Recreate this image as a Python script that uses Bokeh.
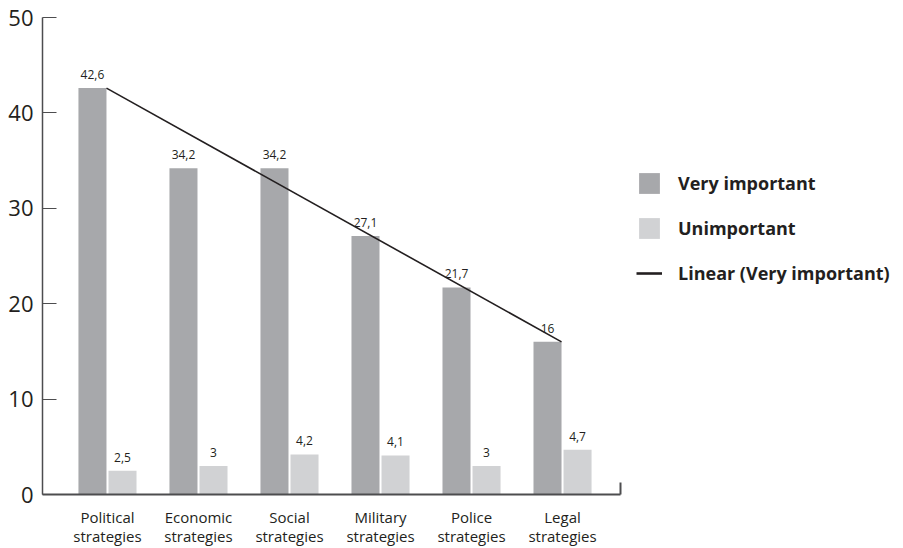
from bokeh.plotting import figure
from bokeh.models import (ColumnDataSource, FixedTicker, Range1d, Legend, LegendItem, LabelSet)
from bokeh.layouts import row
from bokeh.core.properties import value
from bokeh.embed import file_html
from bokeh.resources import INLINE

categories = ["Political\nstrategies", "Economic\nstrategies", "Social\nstrategies",
              "Military\nstrategies", "Police\nstrategies", "Legal\nstrategies"]
very_important = [42.6, 34.2, 34.2, 27.1, 21.7, 16]
unimportant = [2.5, 3, 4.2, 4.1, 3, 4.7]
y_ticks = [0, 10, 20, 30, 40, 50]
series_names = ["Very important", "Unimportant", "Linear (Very important)"]

def fmt(v):
    s = ("%g" % v)
    return s.replace(".", ",")

FONT = "Open Sans"
TXT = "#231f20"
DARK = "#a7a8ab"
LIGHT = "#d1d2d4"
AXIS = "#4d4d4f"

idx = list(range(len(categories)))
bw = 0.308
off = 0.165
x_dark = [i - off for i in idx]
x_light = [i + off for i in idx]

src_d = ColumnDataSource(dict(x=x_dark, top=very_important, lab=[fmt(v) for v in very_important]))
src_l = ColumnDataSource(dict(x=x_light, top=unimportant, lab=[fmt(v) for v in unimportant]))

p = figure(width=624, height=548, output_backend="svg", toolbar_location=None,
           x_range=Range1d(-0.714, 5.637), y_range=Range1d(0, 50),
           min_border_left=42, min_border_right=4, min_border_top=17, min_border_bottom=49)
p.outline_line_color = None
p.grid.visible = False
p.background_fill_color = "white"
p.border_fill_color = "white"

p.vbar(x="x", top="top", width=bw, bottom=0, source=src_d, fill_color=DARK, line_color=None)
p.vbar(x="x", top="top", width=bw, bottom=0, source=src_l, fill_color=LIGHT, line_color=None)

# trend line (Linear, Very important) between the first and last bar tops (right edges)
tx = [x_dark[0] + bw / 2, x_dark[-1] + bw / 2]
ty = [very_important[0], very_important[-1]]
p.line(tx, ty, line_color=TXT, line_width=1.6)

for s in (src_d, src_l):
    p.add_layout(LabelSet(x="x", y="top", text="lab", source=s, text_align="center",
                          text_baseline="bottom", y_offset=9, text_font=value(FONT),
                          text_font_size="12px", text_color=TXT))

# y axis
ya = p.yaxis[0]
ya.ticker = FixedTicker(ticks=y_ticks)
ya.axis_line_color = AXIS
ya.axis_line_width = 1.5
ya.major_tick_line_color = AXIS
ya.major_tick_line_width = 1.2
ya.major_tick_in = 14
ya.major_tick_out = 0
ya.minor_tick_line_color = None
ya.major_label_text_font = FONT
ya.major_label_text_font_size = "22px"
ya.major_label_text_color = TXT
ya.major_label_standoff = 9

# x axis
xa = p.xaxis[0]
xa.ticker = FixedTicker(ticks=idx, minor_ticks=[5.637])
xa.major_label_overrides = {i: c for i, c in zip(idx, categories)}
xa.axis_line_color = AXIS
xa.axis_line_width = 2
xa.major_tick_line_color = None
xa.major_tick_in = 0
xa.major_tick_out = 0
xa.minor_tick_line_color = AXIS
xa.minor_tick_line_width = 2
xa.minor_tick_in = 12
xa.minor_tick_out = 0
xa.major_label_text_font = FONT
xa.major_label_text_font_size = "15px"
xa.major_label_text_line_height = 0.95
xa.major_label_text_color = TXT
xa.major_label_standoff = 12

# legend panel (separate figure to the right)
lg = figure(width=279, height=548, output_backend="svg", toolbar_location=None,
            x_axis_type=None, y_axis_type=None, x_range=Range1d(0, 1), y_range=Range1d(0, 1),
            min_border=0)
lg.outline_line_color = None
lg.grid.visible = False
hidden = ColumnDataSource(dict(x=[5, 6], top=[5, 5]))
l_d = lg.vbar(x="x", top="top", width=0.1, source=hidden, fill_color=DARK, line_color=None)
l_l = lg.vbar(x="x", top="top", width=0.1, source=hidden, fill_color=LIGHT, line_color=None)
l_t = lg.line(x="x", y="top", source=hidden, line_color=TXT, line_width=2.6)

legend = Legend(items=[LegendItem(label=series_names[0], renderers=[l_d]),
                       LegendItem(label=series_names[1], renderers=[l_l]),
                       LegendItem(label=series_names[2], renderers=[l_t])],
                location=(12, 208))
legend.glyph_width = 26
legend.glyph_height = 26
legend.spacing = 19
legend.label_standoff = 16
legend.padding = 0
legend.margin = 0
legend.border_line_color = None
legend.background_fill_alpha = 0
legend.label_text_font = FONT
legend.label_text_font_style = "bold"
legend.label_text_font_size = "18px"
legend.label_text_color = TXT
legend.label_height = 26
lg.add_layout(legend, "center")

layout = row(p, lg, spacing=0)
open("out.html", "w").write(file_html(layout, INLINE))
